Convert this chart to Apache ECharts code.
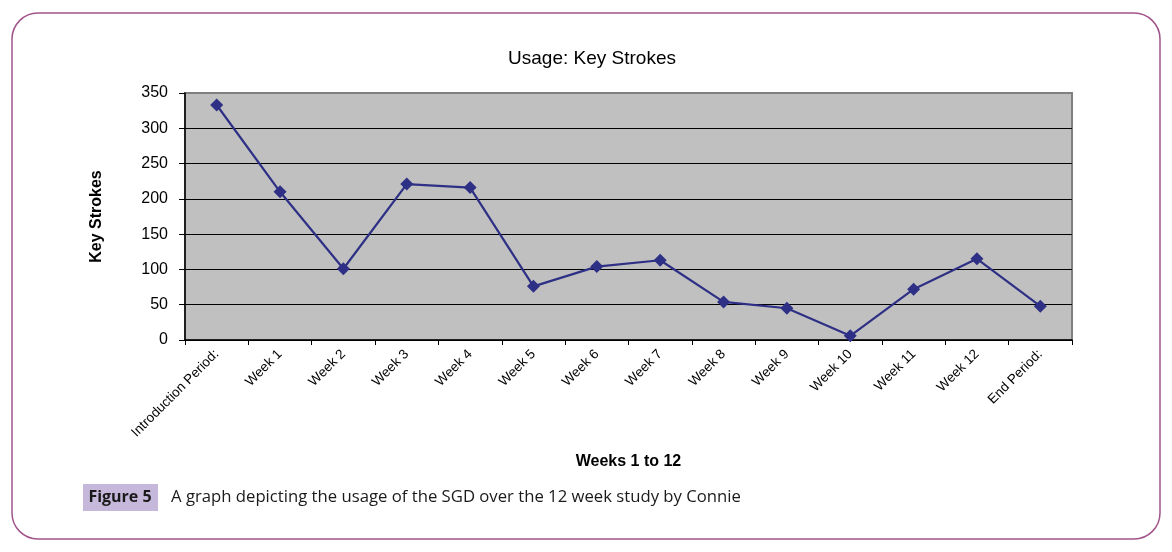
<!DOCTYPE html>
<html>
<head>
<meta charset="utf-8">
<script src="https://cdn.jsdelivr.net/npm/echarts@6/dist/echarts.min.js"></script>
<style>
html,body{margin:0;padding:0;background:#fff;}
#chart{width:1172px;height:552px;}
</style>
</head>
<body>
<div id="chart"></div>
<script>
const categories = ["Introduction Period:", "Week 1", "Week 2", "Week 3", "Week 4", "Week 5", "Week 6", "Week 7", "Week 8", "Week 9", "Week 10", "Week 11", "Week 12", "End Period:"];
const keyStrokes = [333, 210, 101, 221, 216, 76, 104, 113, 54, 45, 6, 72, 115, 48];
const yTicks = [0, 50, 100, 150, 200, 250, 300, 350];
const chartTitle = "Usage: Key Strokes";
const yName = "Key Strokes";
const xName = "Weeks 1 to 12";
const figLabel = "Figure 5";
const figCaption = "A graph depicting the usage of the SGD over the 12 week study by Connie";

const chart = echarts.init(document.getElementById('chart'), null, {renderer: 'canvas'});
const splitColors = yTicks.map((v, i) => i === yTicks.length - 1 ? '#808080' : '#000000');

chart.setOption({
  animation: false,
  backgroundColor: '#ffffff',
  title: {
    text: chartTitle,
    left: 587, top: 44, textAlign: 'center',
    textStyle: {fontFamily: 'Liberation Sans, Arial', fontSize: 19, fontWeight: 'normal', color: '#000'}
  },
  grid: {
    left: 185, right: 100, top: 93, bottom: 212,
    show: true, backgroundColor: '#C0C0C0', borderColor: '#808080', borderWidth: 2
  },
  xAxis: {
    type: 'category',
    data: categories,
    boundaryGap: true,
    name: xName,
    nameLocation: 'middle',
    nameGap: 114,
    nameTextStyle: {fontFamily: 'Liberation Sans, Arial', fontSize: 16, fontWeight: 'bold', color: '#000'},
    axisLine: {lineStyle: {color: '#000', width: 1.5}},
    axisTick: {show: true, alignWithLabel: false, length: 5, lineStyle: {color: '#000'}},
    axisLabel: {rotate: 45, fontFamily: 'Liberation Sans, Arial', fontSize: 13.5, color: '#000', margin: 12, interval: 0}
  },
  yAxis: {
    type: 'value',
    min: yTicks[0], max: yTicks[yTicks.length - 1], interval: 50,
    name: yName,
    nameLocation: 'middle',
    nameGap: 80,
    nameRotate: 90,
    nameTextStyle: {fontFamily: 'Liberation Sans, Arial', fontSize: 16, fontWeight: 'bold', color: '#000'},
    axisLine: {show: true, lineStyle: {color: '#000', width: 1.5}},
    axisTick: {show: true, length: 6, lineStyle: {color: '#000'}},
    axisLabel: {fontFamily: 'Liberation Sans, Arial', fontSize: 16, color: '#000', margin: 17},
    splitLine: {show: true, lineStyle: {color: splitColors, width: 1.2}}
  },
  series: [{
    type: 'line',
    data: keyStrokes,
    symbol: 'diamond',
    symbolSize: 13,
    lineStyle: {color: '#2E3085', width: 2.2},
    itemStyle: {color: '#2E3085'}
  }],
  graphic: [
    {type: 'rect', shape: {x: 12, y: 13, width: 1148, height: 526, r: 26},
     style: {fill: 'none', stroke: '#A0548A', lineWidth: 1.5}, silent: true, z: -10},
    {type: 'rect', shape: {x: 83, y: 484, width: 75, height: 27},
     style: {fill: '#C5B8DA'}, silent: true},
    {type: 'text', x: 120, y: 497,
     style: {text: figLabel, fontFamily: 'Open Sans, Lato', fontSize: 16, fontWeight: 'bold', fill: '#1a1a1a', align: 'center', verticalAlign: 'middle'}},
    {type: 'text', x: 171, y: 497,
     style: {text: figCaption, fontFamily: 'Open Sans, Lato', fontSize: 16.7, fill: '#1a1a1a', align: 'left', verticalAlign: 'middle'}}
  ]
});
</script>
</body>
</html>
